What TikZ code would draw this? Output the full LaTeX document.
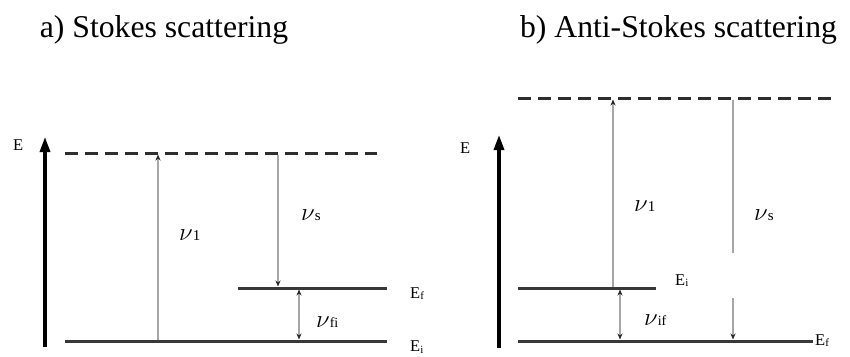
\documentclass[tikz,border=0pt]{standalone}
\usepackage{fontspec}
\setmainfont{Liberation Serif}
\usetikzlibrary{arrows.meta}
\newcommand{\bignu}[1]{{\fontsize{36}{36}\selectfont$\nu$}{\fontsize{15}{15}\selectfont #1}}
\newcommand{\smallnu}[1]{{\fontsize{27}{27}\selectfont$\nu$}{\fontsize{14}{14}\selectfont #1}}
\newcommand{\lev}[1]{E{\fontsize{11}{11}\selectfont\raisebox{-1.5pt}{#1}}}
\begin{document}
\begin{tikzpicture}[x=1pt,y=-1pt,
  level/.style={line width=3pt, draw=black!78},
  virt/.style={line width=3pt, draw=black!82, dash pattern=on 13pt off 7pt},
  axis/.style={line width=3.2pt, draw=black, -{Triangle[length=15pt,width=10pt]}},
  trans/.style={line width=1.3pt, draw=black!35, -{Stealth[length=6pt,width=5pt,black!85]}},
  twoway/.style={line width=1.3pt, draw=black!35, {Stealth[length=6pt,width=5pt,black!85]}-{Stealth[length=6pt,width=5pt,black!85]}},
  plain/.style={line width=1.3pt, draw=black!35},
  title/.style={font=\fontsize{31.7}{34}\selectfont, inner sep=0pt, anchor=base},
  lbl/.style={font=\fontsize{16.5}{16.5}\selectfont, inner sep=0pt, anchor=base west},
  nulbl/.style={inner sep=0pt, anchor=base west}]
\useasboundingbox (0,0) rectangle (850,356);

% titles
\node[title] (ta) at (164,37) {a) Stokes scattering};
\node[title] (tb) at (678.5,37) {b) Anti-Stokes scattering};

% ---------- a) Stokes ----------
\coordinate (aAxB) at (45,347);
\coordinate (aAxT) at (45,137);
\draw[axis] (aAxB) -- (aAxT);
\node[lbl] (aE) at (13,150) {E};

\coordinate (aVL) at (65,153);
\coordinate (aVR) at (377,153);
\draw[virt] (aVL) -- (aVR);

\coordinate (aiL) at (65,341);
\coordinate (aiR) at (387,341);
\draw[level] (aiL) -- (aiR);

\coordinate (afL) at (238,288);
\coordinate (afR) at (387,288);
\draw[level] (afL) -- (afR);

\coordinate (a1B) at (158,339.5);
\coordinate (a1T) at (158,154.5);
\draw[trans] (a1B) -- (a1T);

\coordinate (asT) at (278,154.5);
\coordinate (asB) at (278,286.5);
\draw[trans] (asT) -- (asB);

\coordinate (afiT) at (299,289.5);
\coordinate (afiB) at (299,339.5);
\draw[twoway] (afiT) -- (afiB);

\node[nulbl] (an1) at (179,240) {\bignu{1}};
\node[nulbl] (ans) at (301,220) {\bignu{s}};
\node[nulbl] (anfi) at (316,327) {\smallnu{fi}};
\node[lbl] (aEf) at (410,298) {\lev{f}};
\node[lbl] (aEi) at (410,351.5) {\lev{i}};

% ---------- b) Anti-Stokes ----------
\coordinate (bAxB) at (499,348);
\coordinate (bAxT) at (499,135);
\draw[axis] (bAxB) -- (bAxT);
\node[lbl] (bE) at (460,153) {E};

\coordinate (bVL) at (518,98);
\coordinate (bVR) at (832,98);
\draw[virt] (bVL) -- (bVR);

\coordinate (biL) at (518,288);
\coordinate (biR) at (656,288);
\draw[level] (biL) -- (biR);

\coordinate (bfL) at (518,341);
\coordinate (bfR) at (813,341);
\draw[level] (bfL) -- (bfR);

\coordinate (b1B) at (613,286.5);
\coordinate (b1T) at (613,99.5);
\draw[trans] (b1B) -- (b1T);

\coordinate (bsT) at (733,99.5);
\coordinate (bsG1) at (733,253);
\coordinate (bsG2) at (733,298);
\coordinate (bsB) at (733,339.5);
\draw[plain] (bsT) -- (bsG1);
\draw[trans] (bsG2) -- (bsB);

\coordinate (bifT) at (620,289.5);
\coordinate (bifB) at (620,339.5);
\draw[twoway] (bifT) -- (bifB);

\node[nulbl] (bn1) at (634,211) {\bignu{1}};
\node[nulbl] (bns) at (754,220) {\bignu{s}};
\node[nulbl] (bnif) at (644,325) {\smallnu{if}};
\node[lbl] (bEi) at (675,285) {\lev{i}};
\node[lbl] (bEf) at (815,345) {\lev{f}};
\end{tikzpicture}
\end{document}
